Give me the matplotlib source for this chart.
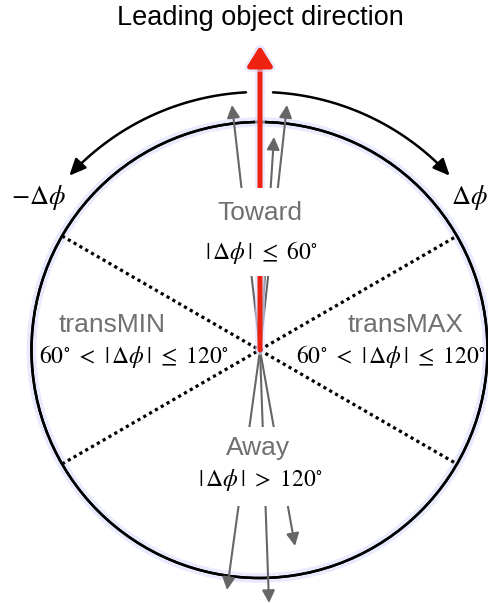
import numpy as np
import matplotlib.pyplot as plt
from matplotlib.patches import Circle, FancyArrowPatch, Rectangle
from matplotlib.path import Path
import matplotlib.patheffects as pe

plt.rcParams['mathtext.fontset'] = 'stix'
plt.rcParams['font.family'] = ['Liberation Sans', 'DejaVu Sans']

# geometry (pixel coords, y down)
cx, cy = 259.5, 350
radius = 228
arc_radius = 258
arc_span = (3, 47.5)            # degrees from vertical
sector_angles = [30, -30]       # dotted sector borders

lead_tip = (260, 46)
up_tips = [(232, 105), (287, 105), (274, 137)]
down_tips = [(227, 590), (269, 603), (295, 546)]

region_names = ["Toward", "transMIN", "transMAX", "Away"]
region_cuts = [r"$|\,\Delta\phi\,|\ \leq\ 60^{\circ}$",
               r"$60^{\circ}\ <\ |\,\Delta\phi\,|\ \leq\ 120^{\circ}$",
               r"$60^{\circ}\ <\ |\,\Delta\phi\,|\ \leq\ 120^{\circ}$",
               r"$|\,\Delta\phi\,|\ >\ 120^{\circ}$"]
name_xy = [(260, 213), (112, 325), (406, 325), (258, 448)]
cut_xy = [(261, 253), (134, 356), (391, 356), (260, 480)]

glow = [pe.withStroke(linewidth=7, foreground='#dcdcff', alpha=0.6), pe.Normal()]
gray = '#666666'

fig = plt.figure(figsize=(4.89, 6.04), dpi=100)
ax = fig.add_axes([0, 0, 1, 1])
ax.set_xlim(0, 489)
ax.set_ylim(604, 0)
ax.axis('off')

# circle
circ = Circle((cx, cy), radius, fill=False, ec='black', lw=1.8, zorder=2)
circ.set_path_effects(glow)
ax.add_patch(circ)

# dotted sector borders
for a in sector_angles:
    t = np.deg2rad(a)
    ax.plot([cx - radius*np.cos(t), cx + radius*np.cos(t)],
            [cy - radius*np.sin(t), cy + radius*np.sin(t)],
            color='black', lw=2.3, ls=(0, (1, 1.1)), zorder=2)

# outer arcs with arrows
for sgn in (-1, 1):
    th = np.deg2rad(np.linspace(arc_span[0], arc_span[1], 60))
    xs = cx + sgn*arc_radius*np.sin(th)
    ys = cy - arc_radius*np.cos(th)
    verts = list(zip(xs, ys))
    p = Path(verts, [Path.MOVETO] + [Path.LINETO]*(len(verts) - 1))
    arr = FancyArrowPatch(path=p, arrowstyle='-|>,head_length=1.0,head_width=0.45',
                          mutation_scale=10, color='black', lw=1.8, zorder=3)
    ax.add_patch(arr)

# gray arrows
for tip in up_tips + down_tips:
    ax.annotate('', xy=tip, xytext=(cx + 0.5, cy),
                arrowprops=dict(arrowstyle='-|>,head_length=0.75,head_width=0.38',
                                color=gray, lw=1.5, shrinkA=0, shrinkB=0),
                zorder=3)

# leading direction arrow
lead = ax.annotate('', xy=lead_tip, xytext=(lead_tip[0], cy),
                   arrowprops=dict(arrowstyle='-|>,head_length=1.2,head_width=0.75',
                                   color='#ee2211', lw=3.3, shrinkA=0, shrinkB=0),
                   zorder=4)
lead.arrow_patch.set_path_effects(glow)

# white boxes behind the Toward / Away labels (they cut the arrows)
ax.add_patch(Rectangle((195, 188), 130, 88, fc='white', ec='none', zorder=5))
ax.add_patch(Rectangle((195, 427), 130, 79, fc='white', ec='none', zorder=5))

# labels
ax.text(260, 18, "Leading object direction", ha='center', va='center',
        fontsize=19.5, color='black')
ax.text(38, 197, r"$-\Delta\phi$", ha='center', va='center', fontsize=19)
ax.text(488, 198, r"$\Delta\phi$", ha='right', va='center', fontsize=19)

for i, name in enumerate(region_names):
    ax.text(*name_xy[i], name, ha='center', va='center', fontsize=19,
            color='#707070', zorder=6)
    ax.text(*cut_xy[i], region_cuts[i], ha='center', va='center', fontsize=17,
            color='black', zorder=6)

fig.savefig('out.png', dpi=100)
